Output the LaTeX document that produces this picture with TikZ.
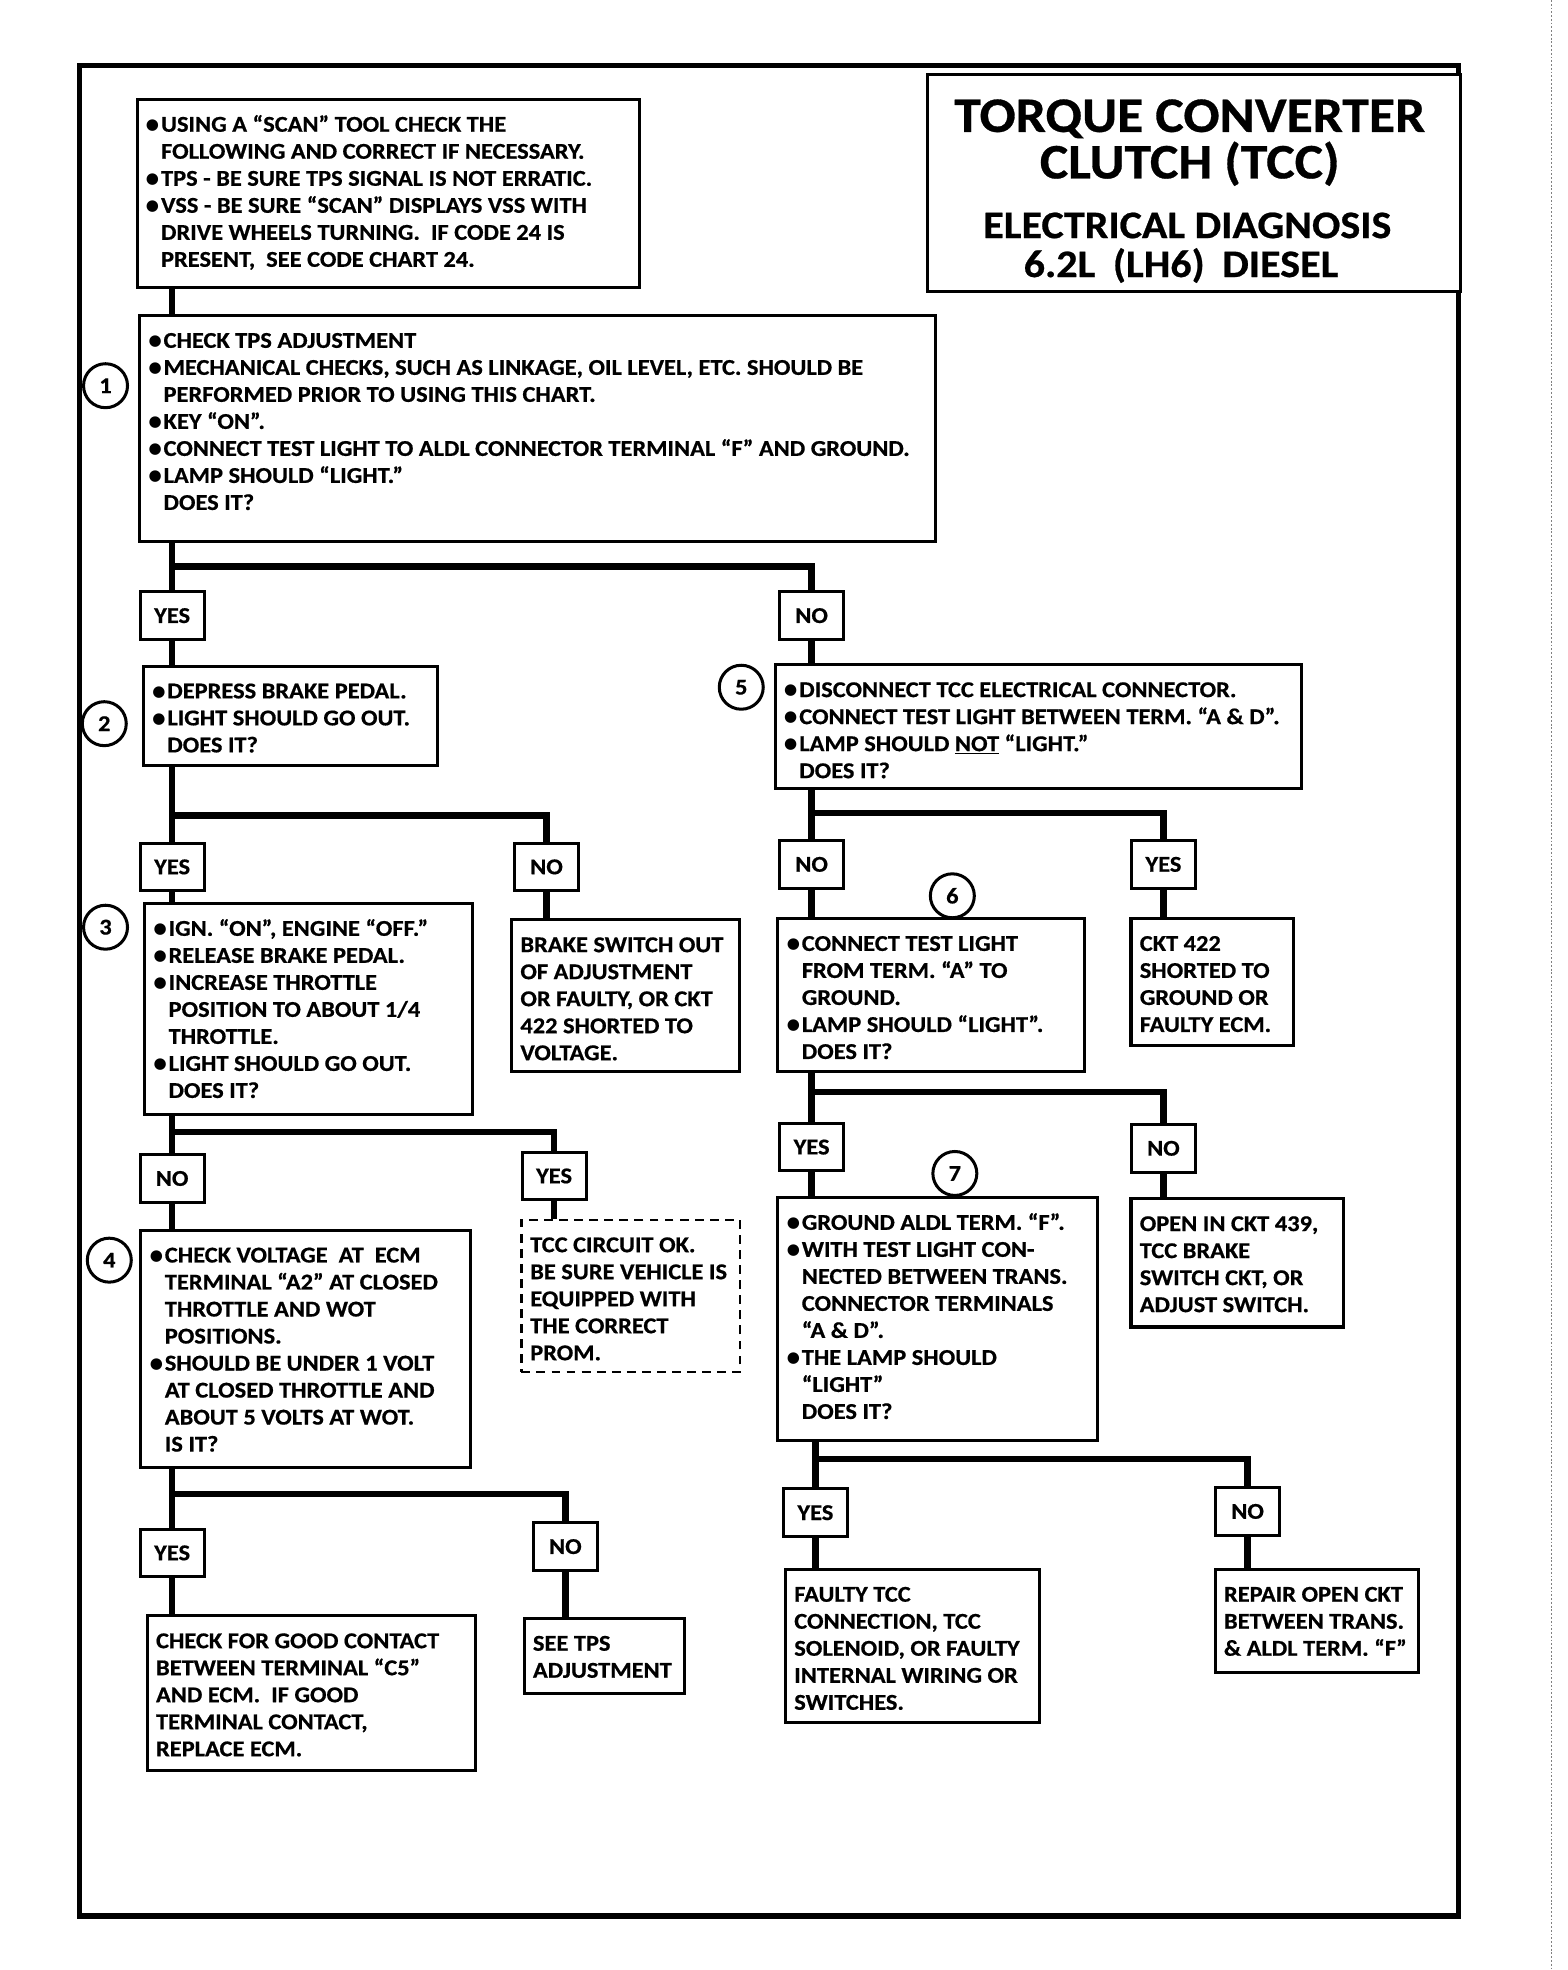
\documentclass[tikz,border=0pt]{standalone}
\usepackage{fontspec}
\setmainfont{Carlito}[FakeStretch=1.08, BoldFeatures={FakeBold=0.6}]
\newfontfamily\djv{DejaVu Sans}
\newcommand{\bxf}{\fontsize{18}{21.5}\selectfont\bfseries}
\newcommand{\bl}{\makebox[12pt][l]{\raisebox{1.8pt}{\djv\fontsize{12}{12}\selectfont ●}}}
\newcommand{\ind}{\hspace*{12pt}}
\newcommand{\bt}[3]{\begin{minipage}[c][#2][t]{#1}\raggedright\leftskip=7pt\relax\vspace*{10.6pt}\strut#3\end{minipage}}
\begin{document}
\begin{tikzpicture}[x=1pt,y=-1pt,
  box/.style={draw, line width=2.4pt, fill=white, inner sep=0pt, anchor=north west, font=\bxf},
  dbox/.style={box, line width=2pt, dash pattern=on 7pt off 5pt},
  lab/.style={draw, line width=2.4pt, fill=white, inner sep=0pt, minimum width=51pt, minimum height=38pt, font=\bxf},
  conn/.style={line width=5pt},
  circ/.style={circle, draw, line width=2.4pt, fill=white, minimum size=35pt, inner sep=0pt, font=\bxf},
  ttl/.style={font=\fontsize{39.5}{39.5}\selectfont\bfseries, inner sep=0pt, anchor=base},
  sub/.style={font=\fontsize{31}{31}\selectfont\bfseries, inner sep=0pt, anchor=base}]
\useasboundingbox (0,0) rectangle (1248,1568);
\draw[gray, line width=0.8pt, dash pattern=on 1.5pt off 1.5pt] (1235,0) -- (1235,1568);
\draw[line width=4pt] (63,52.5) rectangle (1161,1525);

% title
\node[box, minimum width=424pt, minimum height=173pt] (title) at (737,58) {};
\node[ttl] (t1) at (947,105) {TORQUE CONVERTER};
\node[ttl] (t2) at (947,142) {CLUTCH (TCC)};
\node[sub] (t3) at (945,189.5) {ELECTRICAL DIAGNOSIS};
\node[sub] (t4) at (940,220.5) {6.2L\hspace{0.45em}(LH6)\hspace{0.45em}DIESEL};

% boxes
\node[box] (boxA) at (108,78) {\bt{400pt}{150pt}{\bl USING A “SCAN” TOOL CHECK THE\\\ind FOLLOWING AND CORRECT IF NECESSARY.\\\bl TPS - BE SURE TPS SIGNAL IS NOT ERRATIC.\\\bl VSS - BE SURE “SCAN” DISPLAYS VSS WITH\\\ind DRIVE WHEELS TURNING.\ \ IF CODE 24 IS\\\ind PRESENT,\ \ SEE CODE CHART 24.}};
\node[box] (boxB) at (110,250) {\bt{633pt}{180pt}{\bl CHECK TPS ADJUSTMENT\\\bl MECHANICAL CHECKS, SUCH AS LINKAGE, OIL LEVEL, ETC. SHOULD BE\\\ind PERFORMED PRIOR TO USING THIS CHART.\\\bl KEY “ON”.\\\bl CONNECT TEST LIGHT TO ALDL CONNECTOR TERMINAL “F” AND GROUND.\\\bl LAMP SHOULD “LIGHT.”\\\ind DOES IT?}};
\node[box] (box2) at (113,529) {\bt{234pt}{79pt}{\bl DEPRESS BRAKE PEDAL.\\\bl LIGHT SHOULD GO OUT.\\\ind DOES IT?}};
\node[box] (box3) at (114,718) {\bt{261pt}{168pt}{\bl IGN. “ON”, ENGINE “OFF.”\\\bl RELEASE BRAKE PEDAL.\\\bl INCREASE THROTTLE\\\ind POSITION TO ABOUT 1/4\\\ind THROTTLE.\\\bl LIGHT SHOULD GO OUT.\\\ind DOES IT?}};
\node[box] (brake) at (406,731) {\bt{181pt}{121pt}{BRAKE SWITCH OUT\\OF ADJUSTMENT\\OR FAULTY, OR CKT\\422 SHORTED TO\\VOLTAGE.}};
\node[dbox] (tcc) at (414,970) {\bt{174pt}{121pt}{TCC CIRCUIT OK.\\BE SURE VEHICLE IS\\EQUIPPED WITH\\THE CORRECT\\PROM.}};
\node[box] (box4) at (111,978) {\bt{262pt}{189pt}{\bl CHECK VOLTAGE\ \ AT\ \ ECM\\\ind TERMINAL “A2” AT CLOSED\\\ind THROTTLE AND WOT\\\ind POSITIONS.\\\bl SHOULD BE UNDER 1 VOLT\\\ind AT CLOSED THROTTLE AND\\\ind ABOUT 5 VOLTS AT WOT.\\\ind IS IT?}};
\node[box] (check) at (116,1285) {\bt{261pt}{123pt}{CHECK FOR GOOD CONTACT\\BETWEEN TERMINAL “C5”\\AND ECM.\ \ IF GOOD\\TERMINAL CONTACT,\\REPLACE ECM.}};
\node[box] (seetps) at (416,1287) {\bt{128pt}{60pt}{SEE TPS\\ADJUSTMENT}};
\node[box] (box5) at (616,528) {\bt{419pt}{98pt}{\bl DISCONNECT TCC ELECTRICAL CONNECTOR.\\\bl CONNECT TEST LIGHT BETWEEN TERM. “A \& D”.\\\bl LAMP SHOULD \underline{NOT} “LIGHT.”\\\ind DOES IT?}};
\node[box] (box6) at (618,730) {\bt{244pt}{122pt}{\bl CONNECT TEST LIGHT\\\ind FROM TERM. “A” TO\\\ind GROUND.\\\bl LAMP SHOULD “LIGHT”.\\\ind DOES IT?}};
\node[box] (ckt) at (899,730) {\bt{129pt}{101pt}{CKT 422\\SHORTED TO\\GROUND OR\\FAULTY ECM.}};
\node[box] (box7) at (618,952) {\bt{254pt}{193pt}{\bl GROUND ALDL TERM. “F”.\\\bl WITH TEST LIGHT CON-\\\ind NECTED BETWEEN TRANS.\\\ind CONNECTOR TERMINALS\\\ind “A \& D”.\\\bl THE LAMP SHOULD\\\ind “LIGHT”\\\ind DOES IT?}};
\node[box] (open) at (899,953) {\bt{169pt}{102pt}{OPEN IN CKT 439,\\TCC BRAKE\\SWITCH CKT, OR\\ADJUST SWITCH.}};
\node[box] (faulty) at (624,1248) {\bt{202pt}{122pt}{FAULTY TCC\\CONNECTION, TCC\\SOLENOID, OR FAULTY\\INTERNAL WIRING OR\\SWITCHES.}};
\node[box] (repair) at (966,1248) {\bt{162pt}{82pt}{REPAIR OPEN CKT\\BETWEEN TRANS.\\\& ALDL TERM. “F”}};

% labels
\node[lab] (yes1) at (137,490) {YES};
\node[lab] (no1) at (646,490) {NO};
\node[lab] (yes2) at (137,690) {YES};
\node[lab] (no2) at (435,690) {NO};
\node[lab] (no3) at (137,938) {NO};
\node[lab] (yes3) at (441,936) {YES};
\node[lab] (yes4) at (137,1236) {YES};
\node[lab] (no4) at (450,1231) {NO};
\node[lab] (no5) at (646,688) {NO};
\node[lab] (yes5) at (926,688) {YES};
\node[lab] (yes6) at (646,913) {YES};
\node[lab] (no6) at (926,914) {NO};
\node[lab] (yes7) at (649,1204) {YES};
\node[lab] (no7) at (993,1203) {NO};

% junctions
\coordinate (j1) at (137,451);
\coordinate (j2) at (137,649);
\coordinate (j3) at (137,901);
\coordinate (j4) at (137,1189);
\coordinate (j5) at (646,647);
\coordinate (j6) at (646,869);
\coordinate (j7) at (649,1161);

% connectors
\draw[conn] (boxA.south -| yes1) -- (boxB.north -| yes1);
\draw[conn] (boxB.south -| yes1) -- (yes1.north);
\draw[conn] (j1) -| (no1.north);
\draw[conn] (yes1.south) -- (box2.north -| yes1);
\draw[conn] (no1.south) -- (box5.north -| no1);
\draw[conn] (box2.south -| yes2) -- (yes2.north);
\draw[conn] (j2) -| (no2.north);
\draw[conn] (yes2.south) -- (box3.north -| yes2);
\draw[conn] (no2.south) -- (brake.north -| no2);
\draw[conn] (box3.south -| no3) -- (no3.north);
\draw[conn] (j3) -| (yes3.north);
\draw[conn] (no3.south) -- (box4.north -| no3);
\draw[conn] (yes3.south) -- (tcc.north -| yes3);
\draw[conn] (box4.south -| yes4) -- (yes4.north);
\draw[conn] (j4) -| (no4.north);
\draw[conn] (yes4.south) -- (check.north -| yes4);
\draw[conn] (no4.south) -- (seetps.north -| no4);
\draw[conn] (box5.south -| no5) -- (no5.north);
\draw[conn] (j5) -| (yes5.north);
\draw[conn] (no5.south) -- (box6.north -| no5);
\draw[conn] (yes5.south) -- (ckt.north -| yes5);
\draw[conn] (box6.south -| yes6) -- (yes6.north);
\draw[conn] (j6) -| (no6.north);
\draw[conn] (yes6.south) -- (box7.north -| yes6);
\draw[conn] (no6.south) -- (open.north -| no6);
\draw[conn] (box7.south -| yes7) -- (yes7.north);
\draw[conn] (j7) -| (no7.north);
\draw[conn] (yes7.south) -- (faulty.north -| yes7);
\draw[conn] (no7.south) -- (repair.north -| no7);

% step numbers
\node[circ] (c1) at (84,307) {1};
\node[circ] (c2) at (83,576) {2};
\node[circ] (c3) at (84,738) {3};
\node[circ] (c4) at (87,1003) {4};
\node[circ] (c5) at (590,547) {5};
\node[circ] (c6) at (758,713) {6};
\node[circ] (c7) at (760,934) {7};
\end{tikzpicture}
\end{document}
